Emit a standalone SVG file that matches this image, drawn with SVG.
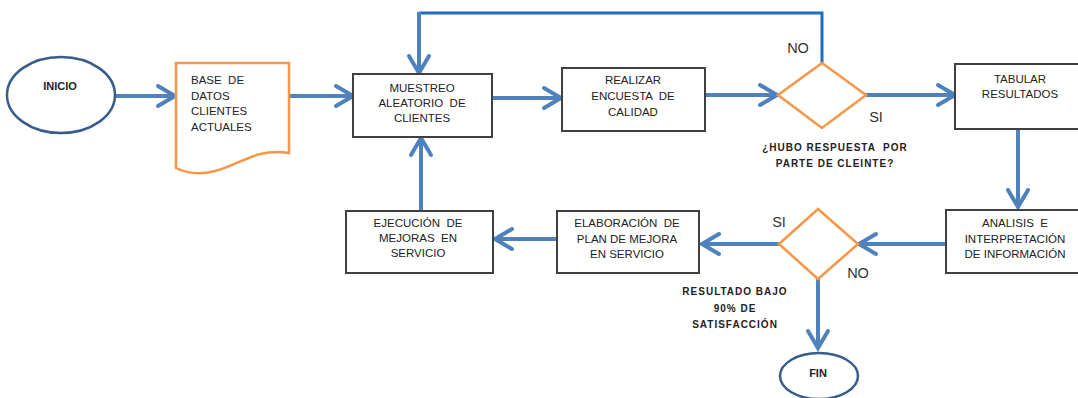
<svg xmlns="http://www.w3.org/2000/svg" width="1078" height="398" viewBox="0 0 1078 398">
  <defs>
    <marker id="chev" viewBox="0 0 22 24" refX="20" refY="12" markerWidth="22" markerHeight="24" markerUnits="userSpaceOnUse" orient="auto" overflow="visible">
      <path d="M3,2 L20,12 L3,22" fill="none" stroke="#4F81BD" stroke-width="4" stroke-linecap="round" stroke-linejoin="miter"/>
    </marker>
    <style>
      text { white-space: pre; }
      .box { fill: #ffffff; stroke: #404040; stroke-width: 2; }
      .term { fill: #ffffff; stroke: #385D8A; stroke-width: 2.5; }
      .dec { fill: #ffffff; stroke: #F79646; stroke-width: 2.5; }
      .doc { fill: #ffffff; stroke: #F79646; stroke-width: 2.5; }
      .t { font-family: "Liberation Sans", Arial, sans-serif; font-size: 11.5px; fill: #222222; text-anchor: middle; }
      .tl { font-family: "Liberation Sans", Arial, sans-serif; font-size: 11.5px; fill: #222222; }
      .tb { font-family: "Liberation Sans", Arial, sans-serif; font-size: 11px; font-weight: bold; fill: #222222; text-anchor: middle; }
      .lab { font-family: "Liberation Sans", Arial, sans-serif; font-size: 10px; font-weight: bold; fill: #222222; text-anchor: middle; letter-spacing: 1px; }
      .yn { font-family: "Liberation Sans", Arial, sans-serif; font-size: 14.5px; fill: #333333; text-anchor: middle; }
      .arr { fill: none; stroke: #4F81BD; stroke-width: 4; marker-end: url(#chev); }
      .loop { fill: none; stroke: #1F6FC0; stroke-width: 3; }
    </style>
  </defs>

  <!-- connectors -->
  <g id="connectors">
    <line class="arr" x1="115" y1="96" x2="175" y2="96"/>
    <line class="arr" x1="289" y1="96" x2="353" y2="96"/>
    <line class="arr" x1="492" y1="98" x2="561" y2="98"/>
    <line class="arr" x1="705" y1="95" x2="777" y2="95"/>
    <line class="arr" x1="866" y1="95" x2="955" y2="95"/>
    <line class="arr" x1="1018" y1="129" x2="1018" y2="207"/>
    <line class="arr" x1="946" y1="244" x2="859" y2="244"/>
    <line class="arr" x1="779" y1="244" x2="702" y2="244"/>
    <line class="arr" x1="557" y1="239" x2="495" y2="239"/>
    <line class="arr" x1="421" y1="211" x2="421" y2="138"/>
    <line class="arr" x1="818" y1="279" x2="818" y2="348"/>
    <!-- return path from the first decision back to sampling -->
    <polyline class="loop" points="822,63 822,13 419,13"/>
    <line class="arr" x1="419" y1="12" x2="419" y2="73"/>
  </g>

  <g id="inicio">
    <ellipse class="term" cx="61" cy="95" rx="54" ry="38"/>
    <text class="tb" x="60" y="90">INICIO</text>
  </g>

  <g id="base-datos">
    <path class="doc" d="M176,63 L289,63 L289,153 C255,148 240,165 215,171 C200,175 186,173 176,168 Z"/>
    <text class="tl" x="191" y="84">BASE  DE</text>
    <text class="tl" x="191" y="100">DATOS</text>
    <text class="tl" x="191" y="115">CLIENTES</text>
    <text class="tl" x="191" y="131">ACTUALES</text>
  </g>

  <g id="muestreo">
    <rect class="box" x="353" y="74" width="139" height="63"/>
    <text class="t" x="422" y="92">MUESTREO</text>
    <text class="t" x="422" y="107">ALEATORIO  DE</text>
    <text class="t" x="422" y="122">CLIENTES</text>
  </g>

  <g id="encuesta">
    <rect class="box" x="562" y="68" width="143" height="63"/>
    <text class="t" x="633" y="84">REALIZAR</text>
    <text class="t" x="633" y="100">ENCUESTA  DE</text>
    <text class="t" x="633" y="116">CALIDAD</text>
  </g>

  <g id="decision-respuesta">
    <polygon class="dec" points="822,63 866,95 822,128 778,95"/>
    <text class="yn" x="798" y="53">NO</text>
    <text class="yn" x="876" y="122">SI</text>
    <text class="lab" x="835" y="151">¿HUBO RESPUESTA  POR</text>
    <text class="lab" x="835" y="167">PARTE DE CLEINTE?</text>
  </g>

  <g id="tabular">
    <rect class="box" x="955" y="64" width="130" height="65"/>
    <text class="t" x="1020" y="83">TABULAR</text>
    <text class="t" x="1020" y="98">RESULTADOS</text>
  </g>

  <g id="analisis">
    <rect class="box" x="946" y="210" width="140" height="63"/>
    <text class="t" x="1015" y="227">ANALISIS  E</text>
    <text class="t" x="1015" y="243">INTERPRETACIÓN</text>
    <text class="t" x="1015" y="258">DE INFORMACIÓN</text>
  </g>

  <g id="decision-resultado">
    <polygon class="dec" points="818,209 858,244 818,279 779,244"/>
    <text class="yn" x="779" y="227">SI</text>
    <text class="yn" x="858" y="278">NO</text>
    <text class="lab" x="735" y="295">RESULTADO BAJO</text>
    <text class="lab" x="735" y="312">90% DE</text>
    <text class="lab" x="735" y="328">SATISFACCIÓN</text>
  </g>

  <g id="plan-mejora">
    <rect class="box" x="557" y="211" width="142" height="62"/>
    <text class="t" x="627" y="227">ELABORACIÓN  DE</text>
    <text class="t" x="627" y="243">PLAN DE MEJORA</text>
    <text class="t" x="627" y="258">EN SERVICIO</text>
  </g>

  <g id="ejecucion">
    <rect class="box" x="346" y="211" width="147" height="62"/>
    <text class="t" x="418" y="227">EJECUCIÓN  DE</text>
    <text class="t" x="418" y="242">MEJORAS  EN</text>
    <text class="t" x="418" y="257">SERVICIO</text>
  </g>

  <g id="fin">
    <ellipse class="term" cx="819" cy="376" rx="39" ry="23"/>
    <text class="tb" x="818" y="377">FIN</text>
  </g>
</svg>
